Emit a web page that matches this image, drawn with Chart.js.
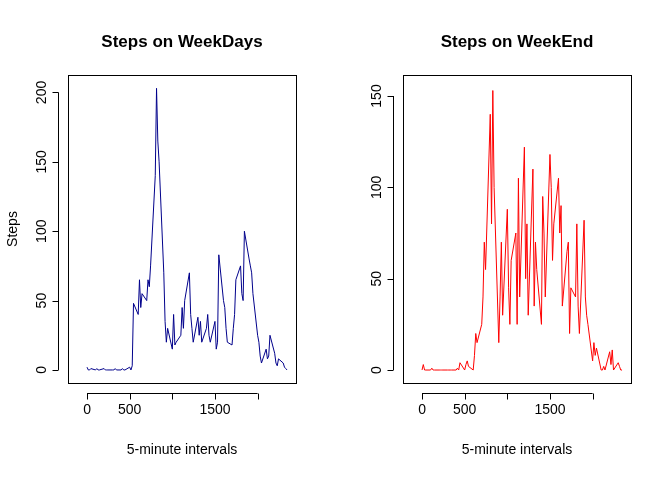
<!DOCTYPE html>
<html><head><meta charset="utf-8">
<script src="https://cdn.jsdelivr.net/npm/chart.js@4"></script>
<style>body{margin:0;background:#fff}.w{display:flex;width:672px;height:480px}canvas{display:block}</style>
</head><body><div class="w"><div style="width:336px;height:480px"><canvas id="c1"></canvas></div><div style="width:336px;height:480px"><canvas id="c2"></canvas></div></div>
<script>
// interval labels (HHMM), 15-minute resolution
const intervals = [0,15,30,45,100,115,130,145,200,215,230,245,300,315,330,345,400,415,430,445,500,515,530,545,
600,615,630,645,700,715,730,745,800,815,830,845,900,915,930,945,1000,1015,1030,1045,1100,1115,1130,1145,
1200,1215,1230,1245,1300,1315,1330,1345,1400,1415,1430,1445,1500,1515,1530,1545,1600,1615,1630,1645,
1700,1715,1730,1745,1800,1815,1830,1845,1900,1915,1930,1945,2000,2015,2030,2045,2100,2115,2130,2145,
2200,2215,2230,2245,2300,2315,2330,2345];
const weekdaySteps = [2,0,0,1, 0,1,0,0, 1,0,0,0, 0,0,1,0, 0,1,0,0, 2,0,3,48,
40,65,45,55, 50,65,60,75, 140,203,165,150, 70,35,20,30, 15,40,18,20, 25,45,30,50,
70,40,30,20, 38,25,35,20, 30,40,25,20, 35,15,20,83, 50,45,30,20, 18,30,40,65,
75,55,50,100, 80,75,70,55, 25,20,10,5, 15,8,10,25, 12,5,3,8, 5,2,1,0];
const weekendSteps = [0,3,0,0, 0,1,0,0, 0,0,0,0, 0,0,0,0, 0,1,0,4, 0,3,5,2,
0,8,20,15, 25,40,70,55, 140,80,153,100, 15,40,70,30, 88,45,25,60, 75,25,105,40,
122,50,80,30, 110,35,70,55, 25,95,75,40, 118,100,60,80, 105,75,90,35, 65,70,20,45,
40,80,35,20, 82,40,30,25, 5,15,8,12, 0,0,2,0, 10,3,11,0, 4,2,0,0];
const xTicks = [0,500,1000,1500,2000];
const xTickLabels = ['0','500','','1500',''];

const rAxes = {
  id: 'rAxes',
  afterDraw(chart, args, o) {
    const {ctx, chartArea: a, scales: {x, y}} = chart;
    ctx.save();
    ctx.strokeStyle = '#000'; ctx.fillStyle = '#000'; ctx.lineWidth = 1;
    ctx.strokeRect(a.left + .5, a.top + .5, a.right - a.left, a.bottom - a.top);
    // x axis
    const ay = a.bottom + 10.5;
    ctx.beginPath();
    ctx.moveTo(x.getPixelForValue(xTicks[0]), ay); ctx.lineTo(x.getPixelForValue(xTicks[xTicks.length - 1]), ay);
    xTicks.forEach(t => { const px = Math.round(x.getPixelForValue(t)) + .5; ctx.moveTo(px, ay); ctx.lineTo(px, ay + 6); });
    // y axis
    const ax = a.left - 9.5;
    ctx.moveTo(ax, y.getPixelForValue(o.yTicks[0])); ctx.lineTo(ax, y.getPixelForValue(o.yTicks[o.yTicks.length - 1]));
    o.yTicks.forEach(t => { const py = Math.round(y.getPixelForValue(t)) + .5; ctx.moveTo(ax, py); ctx.lineTo(ax - 6, py); });
    ctx.stroke();
    ctx.font = '14px "Liberation Sans", Arial';
    ctx.textAlign = 'center'; ctx.textBaseline = 'middle';
    xTicks.forEach((t, i) => ctx.fillText(xTickLabels[i], x.getPixelForValue(t), ay + 17));
    o.yTicks.forEach(t => {
      ctx.save(); ctx.translate(ax - 16, y.getPixelForValue(t)); ctx.rotate(-Math.PI / 2);
      ctx.fillText(String(t), 0, 0); ctx.restore();
    });
    ctx.fillText('5-minute intervals', (a.left + a.right) / 2, 450);
    if (o.yTitle) {
      ctx.save(); ctx.translate(13, (a.top + a.bottom) / 2); ctx.rotate(-Math.PI / 2);
      ctx.fillText(o.yTitle, 0, 0); ctx.restore();
    }
    ctx.font = 'bold 17px "Liberation Sans", Arial';
    ctx.fillText(o.title, (a.left + a.right) / 2, 42);
    ctx.restore();
  }
};

function makePanel(id, data, colour, yMin, yMax, yTicks, title, yTitle, padLeft) {
  new Chart(document.getElementById(id), {
    type: 'scatter',
    data: { datasets: [{ data: intervals.map((v, i) => ({x: v, y: data[i]})), showLine: true,
      borderColor: colour, borderWidth: 1, pointRadius: 0, tension: 0 }] },
    options: {
      responsive: true, maintainAspectRatio: false, animation: false,
      layout: { padding: { left: padLeft, right: 336 - padLeft - 228, top: 75, bottom: 97 } },
      scales: {
        x: { display: false, min: -223, max: 2450 },
        y: { display: false, min: yMin, max: yMax }
      },
      plugins: { legend: { display: false }, tooltip: { enabled: false },
        rAxes: { yTicks, title, yTitle } }
    },
    plugins: [rAxes]
  });
}

makePanel('c1', weekdaySteps, '#00008B', -9.4, 212.6, [0,50,100,150,200], 'Steps on WeekDays', 'Steps', 68);
makePanel('c2', weekendSteps, '#FF0000', -7.1, 161.5, [0,50,100,150], 'Steps on WeekEnd', '', 67);
</script></body></html>
